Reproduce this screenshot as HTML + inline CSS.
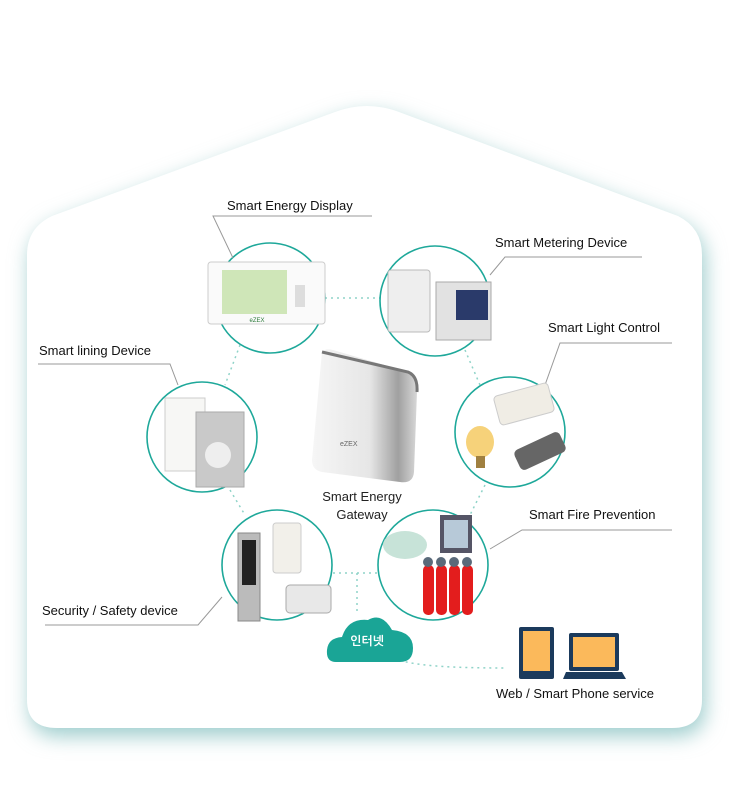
<!DOCTYPE html>
<html><head><meta charset="utf-8"><style>
html,body{margin:0;padding:0;background:#fff;}
svg text{font-family:"Liberation Sans","NanumGothic",sans-serif;}
</style></head><body>
<svg width="733" height="783" viewBox="0 0 733 783" xmlns="http://www.w3.org/2000/svg">
<defs>
<filter id="sh" x="-20%" y="-20%" width="140%" height="140%"><feGaussianBlur stdDeviation="10"/></filter>
<linearGradient id="gw" x1="0" x2="1"><stop offset="0" stop-color="#f6f6f6"/><stop offset="0.55" stop-color="#e6e6e6"/><stop offset="0.82" stop-color="#a0a0a0"/><stop offset="1" stop-color="#d8d8d8"/></linearGradient>
</defs>
<path d="M27,255 Q27,228 52,216 L335,112 Q367,100 399,112 L678,216 Q702,228 702,255 L702,700 Q702,728 672,728 L57,728 Q27,728 27,700 Z" fill="#9ccccc" filter="url(#sh)" transform="translate(3,8)"/>
<path d="M27,255 Q27,228 52,216 L335,112 Q367,100 399,112 L678,216 Q702,228 702,255 L702,700 Q702,728 672,728 L57,728 Q27,728 27,700 Z" fill="#fff"/>
<g stroke="#8fd3c8" stroke-width="1.5" stroke-dasharray="2,4" fill="none">
<path d="M325,298 L380,298"/>
<path d="M240,345 L225,385"/>
<path d="M465,350 L480,385"/>
<path d="M230,490 L245,515"/>
<path d="M485,485 L470,515"/>
<path d="M333,573 L378,573"/>
<path d="M357,573 L357,615"/>
<path d="M400,660 Q420,668 505,668"/>
</g>
<g stroke="#1ea89a" stroke-width="1.6" fill="none">
<circle cx="270" cy="298" r="55"/>
<circle cx="435" cy="301" r="55"/>
<circle cx="202" cy="437" r="55"/>
<circle cx="510" cy="432" r="55"/>
<circle cx="277" cy="565" r="55"/>
<circle cx="433" cy="565" r="55"/>
</g>
<g stroke="#999" stroke-width="1" fill="none">
<path d="M233,258 L213,216 L372,216"/>
<path d="M490,275 L505,257 L642,257"/>
<path d="M178,385 L170,364 L38,364"/>
<path d="M545,385 L560,343 L672,343"/>
<path d="M45,625 L198,625 L222,597"/>
<path d="M490,549 L522,530 L672,530"/>
</g>
<!-- display -->
<rect x="208" y="262" width="117" height="62" rx="3" fill="#fafafa" stroke="#ccc"/>
<rect x="222" y="270" width="65" height="44" fill="#cfe6b8"/>
<rect x="295" y="285" width="10" height="22" fill="#ddd"/>
<text x="257" y="322" font-size="6" fill="#2c7a3a" text-anchor="middle">eZEX</text>
<!-- metering -->
<rect x="388" y="270" width="42" height="62" rx="3" fill="#eee" stroke="#bbb"/>
<rect x="436" y="282" width="55" height="58" fill="#e2e2e2" stroke="#aaa"/>
<rect x="456" y="290" width="32" height="30" fill="#2a3a6a"/>
<!-- lining -->
<rect x="165" y="398" width="40" height="73" fill="#f7f7f5" stroke="#ccc"/>
<rect x="196" y="412" width="48" height="75" fill="#c9c9c9" stroke="#aaa"/>
<circle cx="218" cy="455" r="13" fill="#eee"/>
<!-- light -->
<rect x="496" y="389" width="56" height="30" rx="4" fill="#f0ede5" stroke="#ccc" transform="rotate(-15 524 404)"/>
<ellipse cx="480" cy="442" rx="14" ry="16" fill="#f6d27a"/>
<rect x="476" y="456" width="9" height="12" fill="#a08040"/>
<rect x="515" y="440" width="50" height="22" rx="5" fill="#666" transform="rotate(-25 540 451)"/>
<!-- gateway -->
<path d="M322,352 Q325,348 333,350 L408,372 Q418,376 417,392 L414,472 Q413,484 400,482 L322,472 Q312,470 312,460 Z" fill="url(#gw)"/>
<path d="M322,352 L408,372 Q418,376 417,392" stroke="#777" stroke-width="3" fill="none"/>
<text x="340" y="446" font-size="7" fill="#666">eZEX</text>
<text x="362" y="501" font-size="13" fill="#222" text-anchor="middle">Smart Energy</text>
<text x="362" y="519" font-size="13" fill="#222" text-anchor="middle">Gateway</text>
<!-- security -->
<rect x="238" y="533" width="22" height="88" fill="#bbb" stroke="#888"/>
<rect x="242" y="540" width="14" height="45" fill="#222"/>
<rect x="273" y="523" width="28" height="50" rx="3" fill="#f2f0ea" stroke="#ccc"/>
<rect x="286" y="585" width="45" height="28" rx="4" fill="#e8e8e8" stroke="#aaa"/>
<!-- fire -->
<ellipse cx="405" cy="545" rx="22" ry="14" fill="#c7e3d8"/>
<rect x="440" y="515" width="32" height="38" fill="#556" />
<rect x="444" y="520" width="24" height="28" fill="#b7c9d8"/>
<g fill="#e31d1d"><rect x="423" y="565" width="11" height="50" rx="5"/><rect x="436" y="565" width="11" height="50" rx="5"/><rect x="449" y="565" width="11" height="50" rx="5"/><rect x="462" y="565" width="11" height="50" rx="5"/></g>
<g fill="#5a6a7a"><circle cx="428" cy="562" r="5"/><circle cx="441" cy="562" r="5"/><circle cx="454" cy="562" r="5"/><circle cx="467" cy="562" r="5"/></g>
<!-- cloud -->
<path d="M336,662 Q326,662 327,650 Q328,638 342,637 Q348,618 368,620 Q382,612 392,630 Q413,632 413,648 Q413,662 400,662 Z" fill="#1aa596"/>
<text x="367" y="645" font-size="12" font-weight="bold" fill="#fff" text-anchor="middle" font-family="NanumGothic,'Noto Sans CJK KR',sans-serif">인터넷</text>
<!-- devices -->
<rect x="519" y="627" width="35" height="52" rx="2" fill="#1b3a5c"/>
<rect x="523" y="631" width="27" height="40" fill="#fbb95b"/>
<rect x="569" y="633" width="50" height="38" rx="2" fill="#1b3a5c"/>
<rect x="573" y="637" width="42" height="30" fill="#fbb95b"/>
<path d="M566,672 L622,672 L626,679 L563,679 Z" fill="#1b3a5c"/>
<text x="575" y="698" font-size="13" fill="#111" text-anchor="middle">Web / Smart Phone service</text>
<g font-size="13" fill="#111">
<text x="227" y="210">Smart Energy Display</text>
<text x="495" y="247">Smart Metering Device</text>
<text x="39" y="355">Smart lining Device</text>
<text x="548" y="332">Smart Light Control</text>
<text x="529" y="519">Smart Fire Prevention</text>
<text x="42" y="615">Security / Safety device</text>
</g>
</svg>
</body></html>
